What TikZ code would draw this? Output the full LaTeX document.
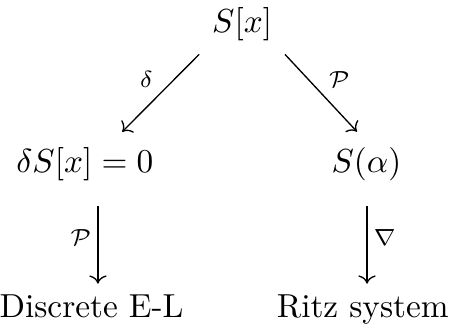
\documentclass[tikz,border=0pt]{standalone}
\usetikzlibrary{arrows.meta}

\begin{document}
\begin{tikzpicture}[
  x=1pt, y=1pt,
  obj/.style={inner sep=3pt, anchor=base},
  map/.style={-{Computer Modern Rightarrow}, shorten <=1pt, shorten >=1pt},
  lbl/.style={font=\scriptsize, inner sep=1.8pt}
]
\useasboundingbox (0,0) rectangle (134.8,99.7);
\node[obj] (sx) at (72.7,89.8) {$S[x]$};
\node[obj] (var) at (25.5,48) {$\delta S[x] = 0$};
\node[obj] (sa) at (110,48) {$S(\alpha)$};
\node[obj] (del) at (27.5,4.5) {Discrete E-L};
\node[obj] (ritz) at (108.9,4.5) {Ritz system};

\draw[map, shorten >=2pt] (sx.south west) -- node[lbl, above left] {$\delta$} (var.40);
\draw[map, shorten >=2pt] (sx.south east) -- node[lbl, above right] {$\mathcal{P}$} (sa.100);
\draw[map, shorten <=4.5pt, shorten >=0pt] (var.south -| 29.4,0) -- node[lbl, left] {$\mathcal{P}$} (del.north -| 29.4,0);
\draw[map, shorten <=4.5pt, shorten >=0pt] (sa.south -| 110.2,0) -- node[lbl, right] {$\nabla$} (ritz.north -| 110.2,0);
\end{tikzpicture}
\end{document}
